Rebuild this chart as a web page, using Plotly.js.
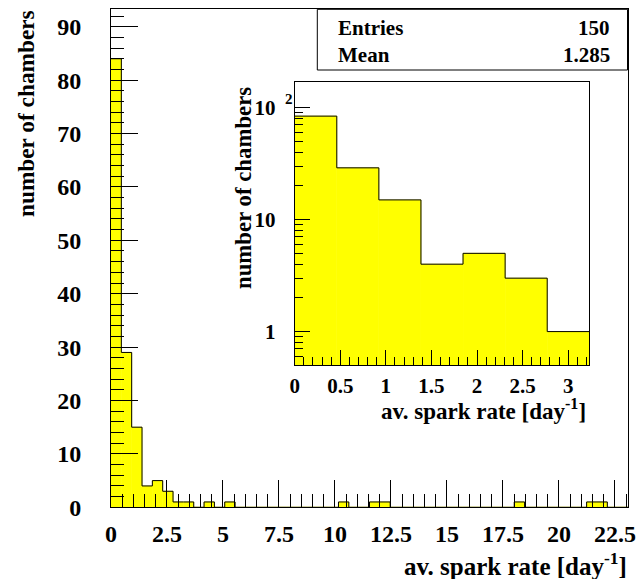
<!DOCTYPE html>
<html>
<head>
<meta charset="utf-8">
<script src="https://cdn.plot.ly/plotly-3.0.1.min.js"></script>
<style>html,body{margin:0;padding:0;background:#fff;}#chart{width:639px;height:579px;}</style>
</head>
<body>
<div id="chart"></div>
<script>
// ---- data ----
const nBins = 50;
const xLow = 0;
const xHigh = 23.085;
const counts = [84, 29, 15, 4, 5, 3, 1, 1, 0, 1,
                0, 1, 0, 0, 0, 0, 0, 0, 0, 0,
                0, 0, 1, 0, 0, 1, 1, 0, 0, 0,
                0, 0, 0, 0, 0, 0, 0, 0, 0, 1,
                0, 0, 0, 0, 0, 0, 1, 1, 0, 0];
const statLabels = ["Entries", "Mean"];
const statValues = ["150", "1.285"];
const xTitle = "av. spark rate [day<sup>-1</sup>]";
const yTitle = "number of chambers";
const insetBins = 7;
const insetTickVals = [1, 10, 100];
const insetTickText = ["1", "10", "10"];

// ---- derived ----
const bw = (xHigh - xLow) / nBins;
const edges = Array.from({length: nBins + 1}, (_, i) => xLow + i * bw);
const centers = counts.map((_, i) => edges[i] + bw / 2);
const stepX = edges.slice();
const stepY = counts.concat([counts[nBins - 1]]);

const W = 639, H = 579;
const px = v => v / W;
const py = v => 1 - v / H;
const FONT = 'Liberation Serif, Times New Roman, serif';
const YEL = '#ffff00';

const insetCounts = counts.slice(0, insetBins);
const insetCenters = centers.slice(0, insetBins);
const insetStepX = edges.slice(0, insetBins + 1);
const insetStepY = insetCounts.concat([insetCounts[insetBins - 1]]);

const minorLog = [];
[0.1, 1, 10, 100].forEach(d => { for (let k = 2; k <= 9; k++) minorLog.push(k * d); });

const traces = [
  {type: 'bar', x: centers, y: counts, width: bw, xaxis: 'x', yaxis: 'y',
   marker: {color: YEL, line: {color: YEL, width: 0.6}}, hoverinfo: 'skip'},
  {type: 'scatter', mode: 'lines', x: stepX, y: stepY, xaxis: 'x', yaxis: 'y',
   line: {shape: 'hv', color: '#000', width: 1}, hoverinfo: 'skip'},
  {type: 'bar', x: insetCenters, y: insetCounts, width: bw, xaxis: 'x2', yaxis: 'y2',
   marker: {color: YEL, line: {color: YEL, width: 0.6}}, hoverinfo: 'skip'},
  {type: 'scatter', mode: 'lines', x: insetStepX, y: insetStepY, xaxis: 'x2', yaxis: 'y2',
   line: {shape: 'hv', color: '#000', width: 1}, hoverinfo: 'skip'}
];

const tickFontMain = {family: FONT, size: 24, color: '#000', weight: 'bold'};
const tickFontInset = {family: FONT, size: 21, color: '#000', weight: 'bold'};
const bold = (s, n) => ({family: FONT, size: n, color: '#000', weight: 'bold'});

const layout = {
  width: W, height: H, autosize: false,
  margin: {l: 0, r: 0, t: 0, b: 0, pad: 0},
  paper_bgcolor: '#fff', plot_bgcolor: '#fff',
  showlegend: false, bargap: 0,
  xaxis: {domain: [px(111), px(628)], range: [xLow, xHigh], anchor: 'y',
    showline: true, mirror: true, linecolor: '#000', linewidth: 1,
    showgrid: false, zeroline: false,
    ticks: 'inside', ticklen: 27, tickwidth: 1, tickcolor: '#000',
    tickmode: 'linear', tick0: 0, dtick: 2.5,
    minor: {ticks: 'inside', ticklen: 13, tickwidth: 1, tickcolor: '#000', tick0: 0, dtick: 0.5, showgrid: false},
    tickfont: tickFontMain, ticklabelstandoff: 5},
  yaxis: {domain: [py(507.3), py(9.3)], range: [0, 93.26], anchor: 'x',
    showline: true, mirror: true, linecolor: '#000', linewidth: 1,
    showgrid: false, zeroline: false,
    ticks: 'inside', ticklen: 27, tickwidth: 1, tickcolor: '#000',
    tickmode: 'linear', tick0: 0, dtick: 10,
    minor: {ticks: 'inside', ticklen: 13, tickwidth: 1, tickcolor: '#000', tick0: 0, dtick: 2, showgrid: false},
    tickfont: tickFontMain, ticklabelstandoff: 24},
  xaxis2: {domain: [px(294.7), px(589.3)], range: [0, insetBins * bw], anchor: 'y2',
    showline: true, mirror: true, linecolor: '#000', linewidth: 1,
    showgrid: false, zeroline: false,
    ticks: 'inside', ticklen: 15, tickwidth: 1, tickcolor: '#000',
    tickmode: 'linear', tick0: 0, dtick: 0.5,
    minor: {ticks: 'inside', ticklen: 8, tickwidth: 1, tickcolor: '#000', tick0: 0, dtick: 0.1, showgrid: false},
    tickfont: tickFontInset, ticklabelstandoff: 1},
  yaxis2: {domain: [py(365.3), py(82)], type: 'log', range: [Math.log10(0.5), 2.229], anchor: 'x2',
    showline: true, mirror: true, linecolor: '#000', linewidth: 1,
    showgrid: false, zeroline: false,
    ticks: 'inside', ticklen: 15, tickwidth: 1, tickcolor: '#000',
    tickmode: 'array', tickvals: insetTickVals, ticktext: insetTickText,
    minor: {ticks: 'inside', ticklen: 8, tickwidth: 1, tickcolor: '#000', tickmode: 'array', tickvals: minorLog, showgrid: false},
    tickfont: tickFontInset, ticklabelstandoff: 14},
  shapes: [
    {type: 'rect', xref: 'paper', yref: 'paper', x0: px(317.3), x1: px(627.5), y0: py(70), y1: py(9.3),
     line: {color: '#000', width: 1}, fillcolor: '#fff', layer: 'above'}
  ],
  annotations: [
    {text: yTitle, xref: 'paper', yref: 'paper', x: px(26.5), y: py(8), xanchor: 'center', yanchor: 'top',
     textangle: -90, showarrow: false, font: bold(0, 23.3)},
    {text: xTitle, xref: 'paper', yref: 'paper', x: px(629), y: py(564), xanchor: 'right', yanchor: 'middle',
     showarrow: false, font: bold(0, 25)},
    {text: yTitle, xref: 'paper', yref: 'paper', x: px(243), y: py(85), xanchor: 'center', yanchor: 'top',
     textangle: -90, showarrow: false, font: bold(0, 22.8)},
    {text: xTitle, xref: 'paper', yref: 'paper', x: px(588), y: py(409), xanchor: 'right', yanchor: 'middle',
     showarrow: false, font: bold(0, 23)},
    {text: '2', xref: 'paper', yref: 'paper', x: px(289), y: py(99), xanchor: 'center', yanchor: 'middle',
     showarrow: false, font: bold(0, 15)},
    {text: statLabels[0], xref: 'paper', yref: 'paper', x: px(336), y: py(28), xanchor: 'left', yanchor: 'middle',
     showarrow: false, font: bold(0, 21)},
    {text: statValues[0], xref: 'paper', yref: 'paper', x: px(612), y: py(28), xanchor: 'right', yanchor: 'middle',
     showarrow: false, font: bold(0, 21)},
    {text: statLabels[1], xref: 'paper', yref: 'paper', x: px(336), y: py(55), xanchor: 'left', yanchor: 'middle',
     showarrow: false, font: bold(0, 21)},
    {text: statValues[1], xref: 'paper', yref: 'paper', x: px(612), y: py(55), xanchor: 'right', yanchor: 'middle',
     showarrow: false, font: bold(0, 21)}
  ]
};

Plotly.newPlot('chart', traces, layout, {staticPlot: true, displayModeBar: false});
</script>
</body>
</html>
